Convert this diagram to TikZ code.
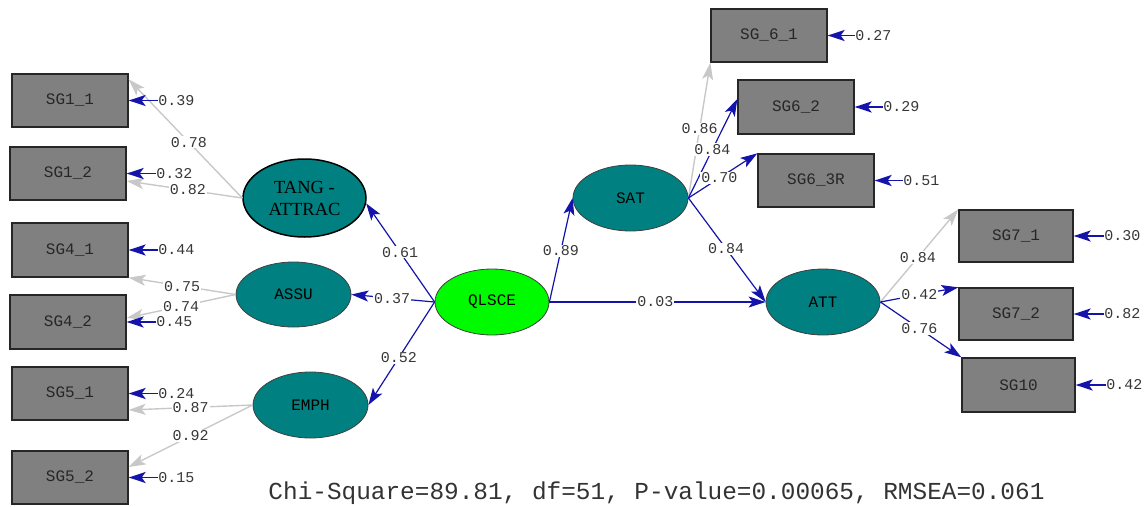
\documentclass[tikz,border=0pt]{standalone}
\usepackage{fontspec}
\setmainfont{Liberation Serif}
\newfontfamily\monof{Liberation Mono}
\usetikzlibrary{shapes.geometric,arrows.meta}
\definecolor{boxgray}{RGB}{128,128,128}
\definecolor{tealfill}{RGB}{0,128,128}
\definecolor{limefill}{RGB}{0,250,0}
\definecolor{pathblue}{RGB}{20,20,170}
\definecolor{pathgray}{RGB}{200,200,200}
\definecolor{labtxt}{RGB}{55,55,55}
\newcommand{\labfont}{\monof\fontsize{15}{15}\selectfont}
\newcommand{\boxfont}{\monof\fontsize{16}{16}\selectfont}
\tikzset{
  obs/.style={draw=black!85, line width=1.3pt, fill=boxgray, minimum width=116pt, minimum height=53pt, inner sep=0pt, font=\boxfont, text=black!85},
  lat/.style={ellipse, draw=black!75, line width=0.8pt, fill=tealfill, minimum width=115pt, minimum height=66pt, inner sep=0pt, font=\boxfont, text=black},
  lbl/.style={fill=white, inner sep=1pt, font=\labfont, text=labtxt},
  errlbl/.style={inner sep=0.5pt, font=\labfont, text=labtxt, anchor=west},
  tip/.style={-{Stealth[length=17pt,width=11pt,inset=4pt]}},
  bluearr/.style={tip, draw=pathblue, line width=1.2pt},
  grayarr/.style={tip, draw=pathgray, line width=1.4pt},
  errarr/.style={tip, draw=pathblue, line width=1.8pt},
}
\begin{document}
\begin{tikzpicture}[x=1pt,y=-1pt]
\useasboundingbox (0,0) rectangle (1148,506);

% observed variables
\node[obs] (SG11) at (70,100.5) {SG1\_1};
\node[obs] (SG12) at (68,173.5) {SG1\_2};
\node[obs, minimum height=54pt] (SG41) at (70,250) {SG4\_1};
\node[obs, minimum height=54pt] (SG42) at (68,322) {SG4\_2};
\node[obs] (SG51) at (70,393.5) {SG5\_1};
\node[obs] (SG52) at (70,477.5) {SG5\_2};
\node[obs] (SG61) at (769,35.5) {SG\_6\_1};
\node[obs, minimum height=54pt] (SG62) at (796,107) {SG6\_2};
\node[obs] (SG63) at (816,180.5) {SG6\_3R};
\node[obs, minimum width=114pt, minimum height=52pt] (SG71) at (1016,236) {SG7\_1};
\node[obs, minimum width=114pt, minimum height=52pt] (SG72) at (1016,314) {SG7\_2};
\node[obs, minimum width=113pt, minimum height=54pt] (SG10) at (1018.5,385) {SG10};

% latent variables
\node[lat, draw=black, line width=1.5pt, minimum width=123pt, minimum height=78pt, font=\fontsize{18.5}{22}\selectfont, align=center] (TANG) at (304.5,198) {TANG -\\ATTRAC};
\node[lat, minimum height=65pt] (ASSU) at (293.5,294.5) {ASSU};
\node[lat] (EMPH) at (310.5,405) {EMPH};
\node[lat, fill=limefill, minimum width=114pt] (QLSCE) at (492,302) {QLSCE};
\node[lat] (SAT) at (630.5,198) {SAT};
\node[lat, minimum width=114pt] (ATT) at (823,302) {ATT};

% loadings (left)
\draw[grayarr] (TANG.west) -- node[lbl, pos=0.47] (l1) {0.78} ([yshift=-6pt]SG11.north east);
\draw[grayarr] (TANG.west) -- node[lbl, pos=0.47] (l2) {0.82} ([yshift=-7.5pt]SG12.east);
\draw[grayarr] (ASSU.west) -- node[lbl, pos=0.5] (l3) {0.75} (SG41.south east);
\draw[grayarr] (ASSU.west) -- node[lbl, pos=0.5] (l4) {0.74} ([yshift=4pt]SG42.east);
\draw[grayarr] (EMPH.west) -- node[lbl, pos=0.5] (l5) {0.87} ([yshift=-16.5pt]SG51.east);
\draw[grayarr] (EMPH.west) -- node[lbl, pos=0.5] (l6) {0.92} ([yshift=10.5pt]SG52.east);

% loadings (right)
\draw[grayarr] (SAT.east) -- node[lbl, pos=0.51] (l7) {0.86} (SG61.south west);
\draw[bluearr] (SAT.east) -- node[lbl, pos=0.49] (l8) {0.84} ([yshift=8pt]SG62.west);
\draw[bluearr] (SAT.east) -- node[lbl, pos=0.45] (l9) {0.70} (SG63.north west);
\draw[grayarr] (ATT.east) -- node[lbl, pos=0.48] (l10) {0.84} (SG71.north west);
\draw[bluearr] (ATT.east) -- node[lbl, pos=0.5] (l11) {0.42} (SG72.north west);
\draw[bluearr] (ATT.east) -- node[lbl, pos=0.48] (l12) {0.76} (SG10.north west);

% structural paths
\draw[bluearr] (QLSCE.west) -- node[lbl, pos=0.505] (s1) {0.61} (TANG.-5);
\draw[bluearr] (QLSCE.west) -- node[lbl, pos=0.51] (s2) {0.37} (ASSU.east);
\draw[bluearr] (QLSCE.west) -- node[lbl, pos=0.54] (s3) {0.52} (EMPH.east);
\draw[bluearr] (QLSCE.east) -- node[lbl, pos=0.49] (s4) {0.89} (SAT.west);
\draw[bluearr] (QLSCE.east) -- node[lbl, pos=0.49] (s5) {0.03} (ATT.west);
\draw[bluearr] (SAT.east) -- node[lbl, pos=0.49] (s6) {0.84} (ATT.west);

% error terms
\node[errlbl] (e11) at ([xshift=29pt]SG11.east) {0.39};
\node[errlbl] (e12) at ([xshift=29pt]SG12.east) {0.32};
\node[errlbl] (e41) at ([xshift=29pt]SG41.east) {0.44};
\node[errlbl] (e42) at ([xshift=29pt]SG42.east) {0.45};
\node[errlbl] (e51) at ([xshift=29pt]SG51.east) {0.24};
\node[errlbl] (e52) at ([xshift=29pt]SG52.east) {0.15};
\node[errlbl] (e61) at ([xshift=27pt]SG61.east) {0.27};
\node[errlbl] (e62) at ([xshift=28pt]SG62.east) {0.29};
\node[errlbl] (e63) at ([xshift=28pt]SG63.east) {0.51};
\node[errlbl] (e71) at ([xshift=30pt]SG71.east) {0.30};
\node[errlbl] (e72) at ([xshift=30pt]SG72.east) {0.82};
\node[errlbl] (e10) at ([xshift=30pt]SG10.east) {0.42};
\foreach \e/\b in {e11/SG11,e12/SG12,e41/SG41,e42/SG42,e51/SG51,e52/SG52,e61/SG61,e62/SG62,e63/SG63,e71/SG71,e72/SG72,e10/SG10}
  \draw[errarr] (\e.west) -- (\b.east);

% fit statistics
\node[font=\monof\fontsize{24.4}{24.4}\selectfont, text=black!80, inner sep=0pt] (chi) at (656.5,493) {Chi-Square=89.81, df=51, P-value=0.00065, RMSEA=0.061};
\end{tikzpicture}
\end{document}
